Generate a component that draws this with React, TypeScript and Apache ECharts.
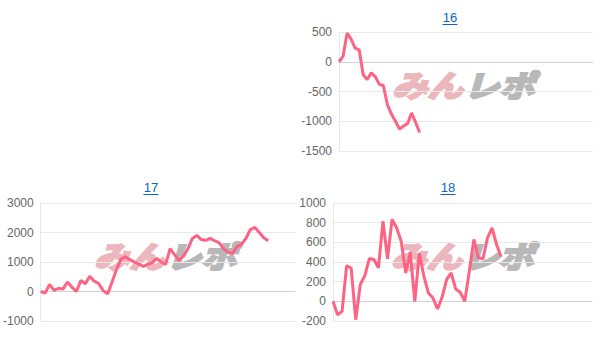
import React, { useEffect, useRef } from "react";
import * as echarts from "echarts";

const TITLES = ["16", "17", "18"];

const CAT_COUNT_16 = 64;
const CAT_COUNT_17 = 58;
const CAT_COUNT_18 = 58;

const VALUES_16 = [0, 90, 480, 380, 230, 200, -220, -300, -185, -250, -380, -400, -720, -880, -1000, -1130, -1080, -1040, -860, -1020, -1190];

const VALUES_17 = [0, -50, 240, 40, 110, 80, 320, 150, 0, 370, 260, 520, 350, 270, 30, -80, 320, 750, 1100, 1180, 1080, 1000, 930, 850, 920, 980, 1120, 1000, 920, 1450, 1250, 1050, 1200, 1450, 1800, 1900, 1760, 1730, 1800, 1720, 1650, 1450, 1330, 1290, 1520, 1600, 1800, 2100, 2170, 2000, 1820, 1720];

const VALUES_18 = [0, -136, -102, 364, 337, -187, 170, 262, 435, 425, 340, 816, 432, 833, 748, 612, 289, 500, 0, 493, 255, 85, 34, -78, 41, 221, 289, 126, 92, 0, 306, 629, 442, 432, 646, 748, 578, 452];

const Y_RANGE_16 = { min: -1500, max: 500, interval: 500 };
const Y_RANGE_17 = { min: -1000, max: 3000, interval: 1000 };
const Y_RANGE_18 = { min: -200, max: 1000, interval: 200 };

const LINE_COLOR = "rgb(255, 99, 132)";
const FONT = "'Liberation Sans', Arial, sans-serif";

function cats(n: number) {
  return Array.from({ length: n }, (_, i) => String(i + 1));
}

function wmText(text: string, x: number, color: string) {
  return {
    type: "text",
    x,
    y: 0,
    style: {
      text,
      fontSize: 30,
      fontWeight: "bold",
      fontStyle: "italic",
      fontFamily: "'Noto Sans CJK JP'",
      fill: color,
      stroke: color,
      lineWidth: 2.5,
      textVerticalAlign: "middle",
    },
  };
}

function watermark(x: number, y: number) {
  return {
    type: "group",
    x,
    y,
    scaleX: 1.18,
    z: 1,
    silent: true,
    children: [wmText("みん", 0, "#ecb7bc"), wmText("レポ", 61, "#b8b8b8")],
  };
}

function titleEl(text: string, cx: number, cy: number) {
  return [
    {
      type: "text",
      x: cx,
      y: cy,
      style: {
        text,
        fontSize: 13,
        fontFamily: FONT,
        fill: "#0b66c3",
        textAlign: "center",
        textVerticalAlign: "middle",
      },
    },
    {
      type: "line",
      shape: { x1: cx - 7.5, y1: cy + 7.5, x2: cx + 7.5, y2: cy + 7.5 },
      style: { stroke: "#0b66c3", lineWidth: 1 },
    },
  ];
}

export default function App() {
  const ref = useRef<HTMLDivElement>(null);
  useEffect(() => {
    if (!ref.current) return;
    const chart = echarts.init(ref.current, null, { renderer: "svg" });
    const grids = [
      { left: 339, width: 254, top: 32, height: 119 },
      { left: 40, width: 255, top: 203, height: 118 },
      { left: 333, width: 259, top: 203, height: 118 },
    ];
    const counts = [CAT_COUNT_16, CAT_COUNT_17, CAT_COUNT_18];
    const ranges = [Y_RANGE_16, Y_RANGE_17, Y_RANGE_18];
    const values = [VALUES_16, VALUES_17, VALUES_18];
    const option: any = {
      animation: false,
      grid: grids,
      xAxis: grids.map((_, i) => ({
        type: "category",
        gridIndex: i,
        data: cats(counts[i]),
        boundaryGap: false,
        axisLabel: { show: false },
        axisTick: { show: false },
        axisLine: { show: true, onZero: true, lineStyle: { color: "#d2d2d2", width: 1 } },
        splitLine: { show: false },
      })),
      yAxis: grids.map((_, i) => ({
        type: "value",
        gridIndex: i,
        min: ranges[i].min,
        max: ranges[i].max,
        interval: ranges[i].interval,
        axisLabel: {
          color: "#666",
          fontSize: 12,
          fontFamily: FONT,
          margin: 7,
          formatter: (v: number) => String(v),
        },
        axisTick: { show: false },
        axisLine: { show: true, lineStyle: { color: "#e8e8e8" } },
        splitLine: { show: true, lineStyle: { color: "#e8e8e8" } },
      })),
      series: values.map((v, i) => ({
        type: "line",
        xAxisIndex: i,
        yAxisIndex: i,
        data: v,
        showSymbol: false,
        symbol: "none",
        z: 3,
        lineStyle: { color: LINE_COLOR, width: 3 },
      })),
      graphic: [
        ...titleEl(TITLES[0], 450, 17),
        ...titleEl(TITLES[1], 151, 187),
        ...titleEl(TITLES[2], 448, 187),
        watermark(392, 84),
        watermark(94, 255),
        watermark(391, 255),
      ],
    };
    chart.setOption(option);
    return () => chart.dispose();
  }, []);
  return (
    <div
      ref={ref}
      style={{ position: "fixed", left: 0, top: 0, width: 605, height: 343, background: "#fff" }}
    />
  );
}
